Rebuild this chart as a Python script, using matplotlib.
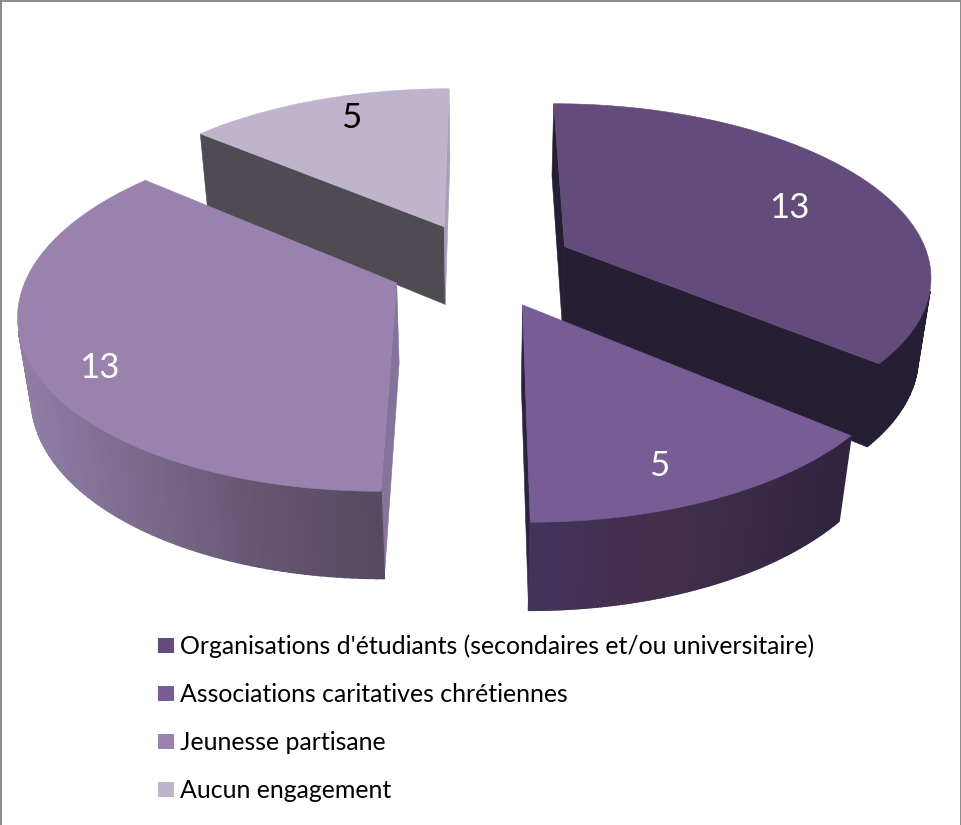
import numpy as np
import matplotlib
matplotlib.use("Agg")
import matplotlib.pyplot as plt
from matplotlib.colors import LinearSegmentedColormap
from matplotlib.patches import Polygon, Rectangle

labels = [
    "Organisations d'étudiants (secondaires et/ou universitaire)",
    "Associations caritatives chrétiennes",
    "Jeunesse partisane",
    "Aucun engagement",
]
values = [13, 5, 13, 5]

# colours, one entry per slice
top_colors = ["#634c7b", "#775c95", "#9983ae", "#bfb4cc"]
legend_colors = ["#634c7b", "#775c95", "#9983ae", "#bfb4cc"]
arc_stops = [
    ["#261e33", "#261e33"],
    ["#41345a", "#432f4e", "#3a2b48", "#30243f"],
    ["#8f7da6", "#7b6a8c", "#655572", "#564a62"],
    ["#4f4b53", "#4f4b53"],
]
start_side_colors = ["#261e33", "#261e33", "#85739b", "#4f4b53"]
end_side_colors = ["#261e33", "#2c2340", "#85739b", "#a89dbb"]
value_colors = ["white", "white", "white", "black"]
value_xy = [(789, 208), (659, 466), (99, 368), (351, 118)]
draw_order = [3, 0, 1, 2]

# projection of the pie, in pixels of the picture
CX, CY = 482, 264.5
R = 366
K = 170
H = 81.5
D = 6.5
TILT = 0.19
EXPLODE = 0.253


def project(u, v, z):
    s = D / (D + v - TILT * z)
    return CX + R * u * s, CY - s * (K * v + H * z)


def shade(poly, color, lw=0.4):
    return Polygon(poly, closed=True, facecolor=color, edgecolor=color, lw=lw)


def area(poly):
    p = np.array(poly)
    x, y = p[:, 0], p[:, 1]
    return 0.5 * np.sum(x * np.roll(y, -1) - np.roll(x, -1) * y)


plt.rcParams["font.family"] = ["Lato", "DejaVu Sans"]
fig = plt.figure(figsize=(9.62, 8.25), dpi=100, facecolor="white")
ax = fig.add_axes([0, 0, 1, 1])
ax.set_xlim(0, 962)
ax.set_ylim(825, 0)
ax.axis("off")

angles = np.cumsum([0] + values) / sum(values) * 2 * np.pi

for i in draw_order:
    a0, a1 = angles[i], angles[i + 1]
    mid = (a0 + a1) / 2
    ou, ov = EXPLODE * np.sin(mid), EXPLODE * np.cos(mid)
    th = np.linspace(a0, a1, 121)
    us, vs = ou + np.sin(th), ov + np.cos(th)

    # straight side walls, only when they face the viewer
    side0 = [project(ou, ov, 0), project(us[0], vs[0], 0),
             project(us[0], vs[0], -1), project(ou, ov, -1)]
    side1 = [project(ou, ov, -1), project(us[-1], vs[-1], -1),
             project(us[-1], vs[-1], 0), project(ou, ov, 0)]
    if area(side0) < 0:
        ax.add_patch(shade(side0, start_side_colors[i]))
    if area(side1) < 0:
        ax.add_patch(shade(side1, end_side_colors[i]))

    # outer wall, same test
    quads = []
    for j in range(len(th) - 1):
        q = [project(us[j], vs[j], 0), project(us[j + 1], vs[j + 1], 0),
             project(us[j + 1], vs[j + 1], -1), project(us[j], vs[j], -1)]
        if area(q) < 0:
            quads.append(q)
    if quads:
        xm = [np.mean([p[0] for p in q]) for q in quads]
        cmap = LinearSegmentedColormap.from_list("wall", arc_stops[i])
        for q, x in zip(quads, xm):
            t = (x - min(xm)) / max(max(xm) - min(xm), 1)
            ax.add_patch(shade(q, cmap(t), lw=1.2))

    # top face
    top = [project(ou, ov, 0)] + [project(u, v, 0) for u, v in zip(us, vs)]
    ax.add_patch(shade(top, top_colors[i]))

for v, xy, c in zip(values, value_xy, value_colors):
    ax.text(xy[0], xy[1], str(v), color=c, fontsize=25, ha="center", va="center")

# legend
legend_y = [645.5, 693.5, 741.5, 789.5]
for lab, c, y in zip(labels, legend_colors, legend_y):
    ax.add_patch(Rectangle((158, y - 7.5), 16, 15, facecolor=c, edgecolor="none"))
    ax.text(180, y + 8.5, lab, color="black", fontsize=17.9, ha="left", va="baseline")

# frame
ax.plot([1, 1], [0, 825], color="#8a8a8a", lw=1.4, solid_capstyle="butt")
ax.plot([961, 961], [0, 825], color="#8a8a8a", lw=1.4, solid_capstyle="butt")
ax.plot([0, 962], [0.5, 0.5], color="#8a8a8a", lw=1.4, solid_capstyle="butt")

fig.savefig("out.png", dpi=100)
